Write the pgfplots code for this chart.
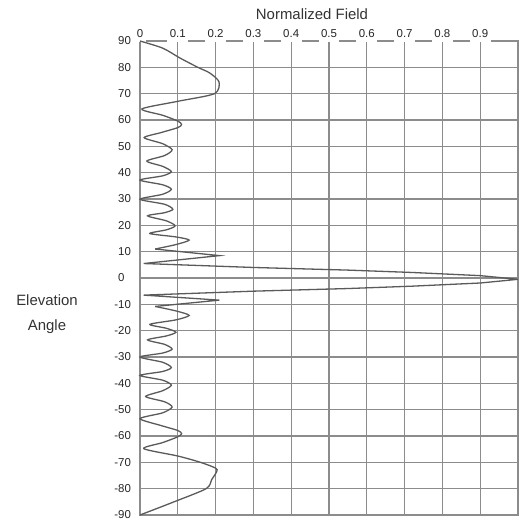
\documentclass[border=0pt]{standalone}
\usepackage{pgfplots}
\pgfplotsset{compat=1.18}
\usepackage{fontspec}
\setmainfont{Liberation Sans}
\definecolor{gridgray}{RGB}{140,140,140}
\definecolor{curvegray}{RGB}{90,90,90}
\begin{document}
\begin{tikzpicture}
\begin{axis}[
  name=ax,
  width=378bp, height=474bp, scale only axis,
  xmin=0, xmax=1, ymin=-90, ymax=90,
  clip=false,
  xtick={0,0.1,0.2,0.3,0.4,0.5,0.6,0.7,0.8,0.9},
  xticklabels={0,0.1,0.2,0.3,0.4,0.5,0.6,0.7,0.8,0.9},
  ytick={-90,-80,-70,-60,-50,-40,-30,-20,-10,0,10,20,30,40,50,60,70,80,90},
  yticklabels={\llap{-}90,\llap{-}80,\llap{-}70,\llap{-}60,\llap{-}50,\llap{-}40,\llap{-}30,\llap{-}20,\llap{-}10,0,10,20,30,40,50,60,70,80,90},
  xticklabel pos=upper,
  major tick length=0pt,
  grid=major,
  major grid style={draw=gridgray, line width=1.2bp},
  axis line style={draw=gridgray, line width=1.2bp},
  tick label style={font=\fontsize{11.5}{13}\selectfont, text=black!85},
  xticklabel style={anchor=base, yshift=4bp, fill=white, inner xsep=2.5bp, inner ysep=5bp},
  yticklabel style={anchor=west, xshift=-22bp, inner sep=0pt},
]
% outer sidelobes, upper half
\addplot[curvegray, line width=1.3bp, smooth, tension=0.45] coordinates {
(0,90) (0.06,87.3) (0.105,83.6) (0.153,80) (0.184,77.9) (0.209,74.5) (0.197,70) (0.1,67.1) (0.005,64.2)
(0.06,61.8) (0.1,59.6) (0.11,58.3) (0.1,57.1) (0.055,55.2) (0.011,53.3)
(0.06,51) (0.085,48.7) (0.065,46.5) (0.018,44.4)
(0.06,42.4) (0.083,40.4) (0.06,38.8) (0.0,37.2)
(0.06,35.4) (0.083,33.7) (0.06,31.8) (0.0,29.9)
(0.065,28.0) (0.087,26.1) (0.065,24.8) (0.02,23.6)
(0.07,21.7) (0.093,19.8) (0.07,18.3) (0.026,16.9)
(0.095,15.6) (0.13,14.4) (0.095,12.7) (0.04,11)
};
% main lobe and first sidelobes
\addplot[curvegray, line width=1.3bp] coordinates {
(0.04,11) (0.21,8.5) (0.01,5.5) (0.3,4.0) (0.55,3.0) (0.72,2.1) (0.9,0.9) (1.0,-0.5)
(0.9,-1.9) (0.72,-3.1) (0.55,-4.0) (0.3,-5.0) (0.01,-6.5) (0.21,-8.4) (0.04,-10.8)
};
% outer sidelobes, lower half
\addplot[curvegray, line width=1.3bp, smooth, tension=0.45] coordinates {
(0.04,-10.8) (0.095,-12.5) (0.13,-14.2) (0.095,-15.9) (0.026,-17.6)
(0.07,-19.1) (0.095,-20.6) (0.07,-22) (0.02,-23.5)
(0.065,-25.2) (0.085,-27) (0.06,-28.5) (0.0,-30)
(0.06,-32) (0.083,-34) (0.06,-35.5) (0.0,-37)
(0.06,-38.8) (0.083,-40.7) (0.06,-42.8) (0.015,-45)
(0.065,-47) (0.085,-49) (0.06,-51.2) (0.0,-53.4)
(0.055,-56) (0.1,-57.9) (0.11,-59.1) (0.1,-60.3) (0.06,-62.5) (0.01,-64.8)
(0.1,-67.6) (0.16,-70) (0.2,-72.2) (0.203,-73.5) (0.19,-76.5) (0.175,-80) (0.09,-85) (0,-90)
};
\node[font=\fontsize{15}{18}\selectfont, text=black!80] at (rel axis cs:0.455,1.057) {Normalized Field};
\node[font=\fontsize{15}{25}\selectfont, text=black!80, align=center] at (rel axis cs:-0.246,0.424) {Elevation\\Angle};
\end{axis}
\pgfresetboundingbox
\path (ax.south west) ++(-140bp,-7bp) rectangle ++(523bp,522bp);
\end{tikzpicture}
\end{document}
